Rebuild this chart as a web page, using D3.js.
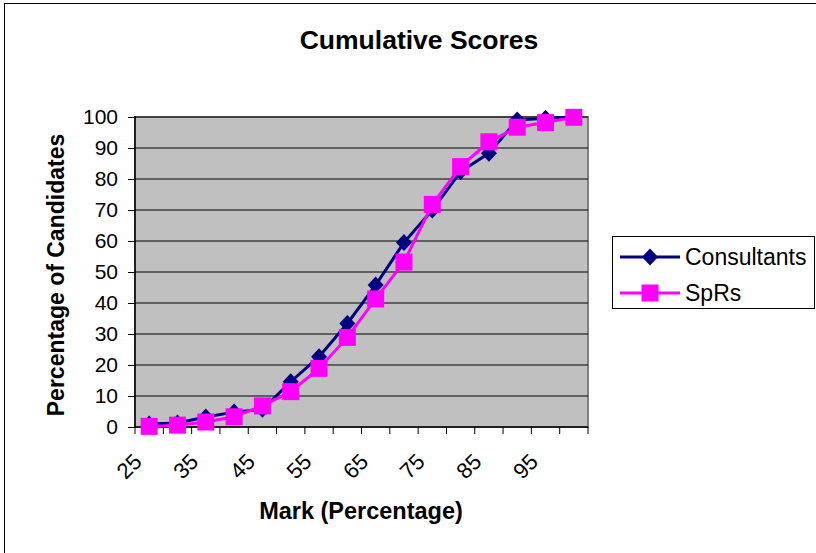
<!DOCTYPE html>
<html><head><meta charset="utf-8">
<script src="https://cdn.jsdelivr.net/npm/d3@7"></script>
<style>body{margin:0;background:#fff}svg{display:block}text{font-family:Arial,"Liberation Sans",sans-serif}</style>
</head><body>
<svg id="c" width="816" height="553"></svg>
<script>
const categories = [25,30,35,40,45,50,55,60,65,70,75,80,85,90,95,100];
const consultants = [1.0,1.3,3.2,4.8,5.7,14.6,22.7,33.4,45.8,59.5,70,82.4,88.3,99,99.6,100];
const sprs = [0.2,0.6,1.6,3.3,6.8,11.4,18.9,28.9,41.3,53.2,71.8,84,92,96.7,98.2,99.9];
const yTicks = [0,10,20,30,40,50,60,70,80,90,100];
const xLabels = [25,35,45,55,65,75,85,95];
const seriesNames = ["Consultants","SpRs"];
const colors = ["#000080","#FF00FF"];

const svg = d3.select("#c");
const L=135,R=588,T=117,B=427;
const x = d3.scaleBand().domain(categories).range([L,R]).padding(0);
const y = d3.scaleLinear().domain([0,100]).range([B,T]);

svg.append("rect").attr("x",4.5).attr("y",3.5).attr("width",840).attr("height",580)
  .attr("fill","#fff").attr("stroke","#000").attr("stroke-width",1);

svg.append("text").attr("x",419).attr("y",49).attr("text-anchor","middle")
  .attr("font-size",26.5).attr("font-weight","bold").text("Cumulative Scores");

// plot area
svg.append("rect").attr("x",L).attr("y",T).attr("width",R-L).attr("height",B-T)
  .attr("fill","#C0C0C0").attr("stroke","#808080").attr("stroke-width",2);

// gridlines
svg.append("g").selectAll("line").data(yTicks.filter(d=>d>0)).join("line")
  .attr("x1",L).attr("x2",R).attr("y1",d=>y(d)).attr("y2",d=>y(d))
  .attr("stroke","#000").attr("stroke-width",1);

// y axis
const ya = svg.append("g").attr("transform",`translate(${L},0)`)
  .call(d3.axisLeft(y).tickValues(yTicks).tickSize(7).tickPadding(10).tickFormat(d3.format("d")));
ya.select(".domain").remove();
ya.selectAll(".tick line").attr("stroke","#000");
ya.selectAll("text").attr("font-size",21).attr("font-family","Arial, Liberation Sans, sans-serif").attr("fill","#000");

// axis lines
svg.append("line").attr("x1",L).attr("x2",L).attr("y1",T-1).attr("y2",B).attr("stroke","#000").attr("stroke-width",1.5);
svg.append("line").attr("x1",L).attr("x2",R).attr("y1",B).attr("y2",B).attr("stroke","#000").attr("stroke-width",1.5);

// x ticks at category boundaries
const bounds = categories.map(c=>x(c)).concat([x(categories[categories.length-1])+x.bandwidth()]);
svg.append("g").selectAll("line").data(bounds).join("line")
  .attr("x1",d=>d).attr("x2",d=>d).attr("y1",B).attr("y2",B+7).attr("stroke","#000");

// x labels
svg.append("g").selectAll("text").data(xLabels).join("text")
  .attr("transform",d=>`translate(${x(d)+x.bandwidth()/2-6},${B+36}) rotate(-45)`)
  .attr("text-anchor","end").attr("font-size",22).text(d=>d);

// axis titles
svg.append("text").attr("transform","translate(64,275) rotate(-90)").attr("text-anchor","middle")
  .attr("font-size",23).attr("font-weight","bold").text("Percentage of Candidates");
svg.append("text").attr("x",361).attr("y",519).attr("text-anchor","middle")
  .attr("font-size",23.5).attr("font-weight","bold").text("Mark (Percentage)");

const cx = c=>x(c)+x.bandwidth()/2;
const line = d3.line().x((d,i)=>cx(categories[i])).y(d=>y(d));
const diamond = "M0,-8.5L8,0L0,8.5L-8,0Z";
const square = "M-8.5,-8.5H8.5V8.5H-8.5Z";

function drawSeries(vals,color,shape){
  svg.append("path").datum(vals).attr("d",line).attr("fill","none")
    .attr("stroke",color).attr("stroke-width",3);
  svg.append("g").selectAll("path").data(vals).join("path")
    .attr("transform",(d,i)=>`translate(${cx(categories[i])},${y(d)})`)
    .attr("d",shape).attr("fill",color);
}
drawSeries(consultants,colors[0],diamond);
drawSeries(sprs,colors[1],square);

// legend
const lg = svg.append("g");
lg.append("rect").attr("x",612.5).attr("y",236.5).attr("width",202).attr("height",72)
  .attr("fill","#fff").attr("stroke","#000");
const shapes=[diamond,square];
[257,293].forEach((ly,i)=>{
  lg.append("line").attr("x1",620).attr("x2",680).attr("y1",ly).attr("y2",ly).attr("stroke",colors[i]).attr("stroke-width",3);
  lg.append("path").attr("d",shapes[i]).attr("transform",`translate(650,${ly})`).attr("fill",colors[i]);
  lg.append("text").attr("x",685).attr("y",ly+8).attr("font-size",23).text(seriesNames[i]);
});
</script>
</body></html>
